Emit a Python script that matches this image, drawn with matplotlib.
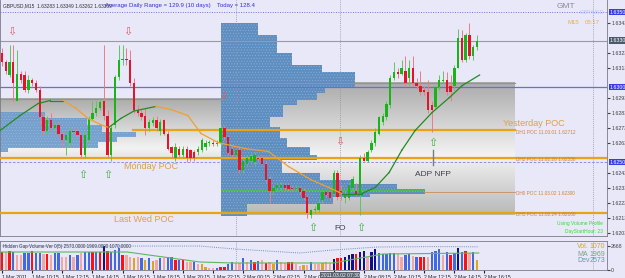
"""GBPUSD M15 chart with volume profile, POC levels and a volume sub-window."""

import matplotlib

matplotlib.use("Agg")
import matplotlib.pyplot as plt
import matplotlib.transforms as mtransforms
import numpy as np

plt.rcParams["font.family"] = ["Liberation Sans", "DejaVu Sans"]
plt.rcParams["hatch.linewidth"] = 0.35

BASE = 1.6200  # candle values below are pips above this price

opens = [123, 117, 108, 117, 91, 109, 108, 98, 105, 103,
         98, 80, 71, 78, 73, 75, 69, 65, 63, 71,
         71, 68, 55, 65, 79, 83, 86, 91, 81, 55,
         75, 107, 118, 119, 118, 103, 85, 83, 81, 73,
         76, 78, 71, 78, 69, 60, 53, 59, 55, 59,
         58, 57, 57, 58, 60, 63, 63, 62, 63, 73,
         67, 59, 55, 58, 45, 49, 51, 50, 53, 53,
         49, 39, 31, 33, 33, 35, 35, 33, 32, 33,
         31, 27, 15, 18, 18, 25, 30, 30, 29, 43,
         31, 26, 26, 33, 31, 28, 53, 51, 58, 63,
         69, 77, 80, 88, 106, 110, 109, 111, 106, 113,
         103, 101, 98, 97, 88, 87, 100, 104, 105, 101,
         101, 113, 133, 118, 135, 121, 127]
highs = [126, 118, 128, 128, 125, 111, 111, 108, 106, 105,
         101, 83, 81, 83, 77, 77, 71, 71, 73, 73,
         73, 69, 71, 81, 91, 91, 93, 128, 85, 75,
         108, 128, 128, 126, 125, 106, 88, 85, 86, 79,
         80, 81, 79, 79, 71, 61, 63, 61, 61, 61,
         59, 58, 61, 66, 65, 65, 65, 65, 75, 75,
         68, 61, 59, 61, 53, 55, 56, 57, 55, 54,
         51, 41, 35, 37, 37, 36, 36, 35, 35, 34,
         33, 28, 19, 21, 25, 31, 31, 31, 45, 45,
         35, 31, 36, 41, 36, 55, 56, 58, 65, 73,
         81, 83, 91, 108, 117, 113, 118, 121, 118, 121,
         106, 111, 101, 105, 91, 101, 108, 111, 110, 108,
         115, 139, 138, 136, 143, 128, 135]
lows = [114, 109, 107, 91, 91, 103, 97, 96, 101, 97,
        75, 68, 68, 71, 71, 67, 61, 55, 61, 69,
        67, 53, 53, 63, 78, 81, 85, 78, 53, 51,
        73, 105, 115, 115, 101, 83, 81, 78, 68, 71,
        74, 71, 68, 68, 58, 53, 51, 53, 53, 50,
        51, 51, 55, 57, 58, 61, 61, 61, 61, 65,
        55, 53, 53, 43, 43, 48, 50, 48, 50, 48,
        36, 23, 29, 31, 31, 31, 31, 31, 31, 29,
        25, 13, 13, 16, 17, 23, 27, 25, 28, 25,
        25, 23, 25, 31, 27, 15, 51, 50, 57, 61,
        68, 75, 78, 86, 105, 106, 108, 101, 101, 101,
        99, 95, 95, 83, 70, 86, 98, 103, 95, 91,
        98, 113, 117, 117, 119, 118, 125]
closes = [117, 111, 117, 103, 109, 105, 98, 105, 103, 98,
          80, 71, 78, 73, 75, 69, 65, 68, 71, 70,
          68, 55, 68, 79, 83, 86, 90, 81, 55, 73,
          107, 118, 119, 118, 103, 85, 83, 80, 73, 77,
          78, 73, 77, 69, 59, 56, 60, 55, 59, 53,
          53, 53, 59, 65, 63, 63, 62, 63, 73, 67,
          56, 55, 58, 45, 51, 53, 54, 55, 52, 49,
          38, 31, 33, 35, 35, 33, 32, 32, 33, 30,
          26, 16, 18, 19, 23, 30, 28, 26, 43, 27,
          29, 29, 35, 39, 28, 53, 51, 57, 63, 70,
          80, 81, 89, 106, 110, 109, 113, 103, 113, 103,
          101, 97, 97, 85, 85, 100, 105, 105, 97, 97,
          113, 133, 118, 135, 121, 127, 130.9]

volumes = [2035, 2035, 2109, 2035, 1665, 1665, 1850, 1850, 2109, 1850,
           1850, 1739, 1739, 1665, 1850, 1850, 1480, 1480, 1665, 1480,
           1665, 1850, 2035, 1961, 2035, 2035, 2035, 2701, 2109, 2035,
           2220, 2405, 1665, 1665, 1480, 1295, 1480, 1295, 1110, 1295,
           999, 1110, 1295, 1295, 1480, 1480, 1110, 1110, 1110, 925,
           851, 925, 629, 629, 370, 259, 185, 185, 370, 370,
           629, 925, 740, 740, 1295, 851, 1110, 925, 999, 1110,
           740, 925, 629, 1110, 851, 740, 851, 925, 629, 481,
           555, 555, 925, 629, 629, 814, 851, 814, 1221, 1295,
           1369, 1480, 1665, 1739, 1739, 1961, 2109, 1480, 1961, 2294,
           1850, 1739, 1739, 1850, 1850, 1739, 1480, 1665, 1739, 1591,
           1480, 1480, 1480, 1480, 2035, 2109, 2331, 1665, 2035, 1665,
           1850, 2405, 2035, 2109, 1850, 2035, 1070]
vol_kind = ("rsrbssbbrb" "bsrsbbssbs" "bsbbrbrnrb" "bbrssgsbgb" "gsbsbbrbrs"
            "sbsggssbrr" "bbssbsbrbs" "rsgbssrrss" "gsbssgssnr" "rnnnrnnsnn"
            "bbbbbssbbs" "brrsbbbsbr" "bnbrsbg")

# moving average (bar index, pips)
ma_bar = [-0.5, 4.8, 9.6, 12.8, 16.3, 19.5, 22.9, 26.1, 28.3, 31.5, 35.0,
          40.8, 44.8, 49.3, 52.8, 57.3, 64.3, 70.7, 76.0, 82.1, 86.7, 90.1,
          95.5, 99.0, 102.7, 106.1, 109.6, 114.1, 118.7, 122.1, 126.7]
ma_val = [71, 81, 89, 91, 91, 86, 79, 75, 73, 79, 84,
          87, 85, 81, 69, 63, 59, 57, 47, 38, 33, 29,
          29, 33, 43, 58, 71, 83, 93, 101, 108]

volma_bar = [-0.5, 33.2, 52.5, 61.3, 87.8, 101.0, 126.5]
volma_val = [1998, 1998, 888, 777, 777, 1776, 1887]
dev_bar = [-0.5, 31.3, 52.5, 61.8, 79.0, 87.8, 99.5, 114.3, 126.5]
dev_val = [2660, 2660, 2660, 2330, 1890, 2220, 2550, 2600, 2573]

# volume profiles: level edges in pips, length in bars
vp_edges = [142.7, 134.7, 122.7, 118, 114.7, 110, 99.3, 96, 91.3, 88, 80, 73.3,
            66, 60, 54.7, 51.3, 42.7, 38, 35.3, 32, 28.7, 26.7, 22, 14]
vp_len = [9.8, 14.9, 18.8, 18.8, 26.8, 35.5, 27.6, 25.5, 20.2, 16.4, 13, 15.6,
          17.5, 23.6, 25.5, 16.2, 26.3, 35, 46.7, 54.1, 39.5, 29.7, 6.9]
vp_start = 58.1
left_vp_edges = [83.3, 79.3, 74.7, 70.0, 66.7, 63.3, 59.3, 56.7]
left_vp_len = [12, 23, 27, 36, 31, 26, 2]

poc_names = ["DH1", "DH2", "DH0", "DH5"]
poc_dates = ["11.03.01", "11.02.28", "11.03.02", "11.02.24"]
poc_prices = [1.62712, 1.62530, 1.62300, 1.62160]
poc_from = [34.7, -0.6, 112.0, -0.6]
poc_to = [136.1, 161.0, 136.1, 161.0]

down_bar = [2.7, 33.4, 58.9, 89.7]
down_val = [136.7, 136.7, 93.3, 63.3]
up_bar = [21.5, 28.1, 82.5, 95.2, 114.3]
up_val = [41.3, 41.3, 6.0, 6.0, 62.7]

time_ticks = list(range(0, 129, 8))
time_labels = ["1 Mar 2011", "1 Mar 10:15", "1 Mar 12:15", "1 Mar 14:15",
               "1 Mar 16:15", "1 Mar 18:15", "1 Mar 20:15", "1 Mar 22:15",
               "2 Mar 00:15", "2 Mar 02:15", "2 Mar 04:15", "",
               "2 Mar 08:15", "2 Mar 10:15", "2 Mar 12:15", "2 Mar 14:15",
               "2 Mar 16:15"]
price_ticks = [1.6353 - 0.001 * k for k in range(16)]
marked_prices = [1.6350, 1.63309, 1.6300, 1.6250]


def p(v):
    return BASE + np.asarray(v, dtype=float) / 10000.0


W, H = 625, 278
BG = "#E8E8F8"
GREEN, RED = "#19B419", "#E5142B"
ORANGE = "#E8A317"

fig = plt.figure(figsize=(W / 100, H / 100), dpi=100, facecolor=BG)
ax = fig.add_axes([0, 1 - 236 / H, 607 / W, 236 / H], facecolor=BG)
axv = fig.add_axes([0, 1 - 270 / H, 607 / W, 29 / H], facecolor=BG)
XL = (-0.53, 160.5)


def grad_box(x0, x1, top, bottom, t0):
    t = np.linspace(0, 1, 200)
    g = 0.95 - 0.28 * np.abs(t - t0) / max(t0, 1 - t0)
    ax.imshow(g[:, None], cmap="gray", vmin=0, vmax=1, origin="upper",
              extent=[x0, x1, p(bottom), p(top)], aspect="auto", zorder=0.5,
              interpolation="bilinear")
    ax.plot([x0, x1], [p(top)] * 2, color="#9090A8", lw=0.8, zorder=2)


grad_box(-0.53, 59.0, 92.0, 53.3, 0.85)
grad_box(59.0, 136.1, 102.7, 14.7, 0.55)

# volume profiles
e = np.array(vp_edges)
ax.barh(p((e[:-1] + e[1:]) / 2), vp_len, height=(e[:-1] - e[1:]) / 10000,
        left=vp_start, color="#5E8EC0", edgecolor="#8FB2DA", hatch="......",
        lw=0, zorder=1)
e = np.array(left_vp_edges)
ax.barh(p((e[:-1] + e[1:]) / 2), left_vp_len, height=(e[:-1] - e[1:]) / 10000,
        left=XL[0], color="#6B9BCB", edgecolor="#9CBDE2", hatch="......",
        alpha=0.9, lw=0, zorder=1)
ax.plot([vp_start, 112.0], [p(31.3)] * 2, color="#50C050", lw=0.6, zorder=2)

# reference lines
ax.axhline(marked_prices[0], color="#7070E0", ls=(0, (1, 1.5)), lw=0.7, zorder=2)
ax.axhline(p(closes[-1]), color="#9A9AA0", lw=0.8, zorder=2)
ax.axhline(marked_prices[2], color="#6B6BE0", lw=0.9, zorder=2)
ax.axhline(marked_prices[3], color="#8080D8", ls=(0, (3, 2)), lw=0.6, zorder=2)
for a in (ax, axv):
    for xv in (62.1, 89.7, 156.8):
        a.axvline(xv, color="#9090A0", ls=(0, (1, 1.5)), lw=0.6, zorder=2)

# POC lines
for name, date, price, x0, x1 in zip(poc_names, poc_dates, poc_prices, poc_from, poc_to):
    if name == "DH0":
        ax.plot([x0, x1], [price, price], color="#C89060", lw=0.6, zorder=3)
    else:
        ax.plot([x0, x1], [price, price], color=ORANGE, lw=1.6, zorder=3)
    ax.text(136.4, price - 0.00013, f"{name} POC {date} {price:.5f}",
            fontsize=3.4, color="#D08040", va="center", ha="left", zorder=6)

ax.text(32.4, p(46.7), "Monday POC", fontsize=6.5, color="#E0A040", va="center")
ax.text(29.7, p(12.0), "Last Wed POC", fontsize=6.5, color="#E0A040", va="center")
ax.text(132.9, p(76.0), "Yesterday POC", fontsize=6.5, color="#E0A040", va="center")

# candles
x = np.arange(len(closes))
o, h, l, c = (np.array(v, dtype=float) for v in (opens, highs, lows, closes))
up = c >= o
ax.vlines(x, p(l), p(h), colors=np.where(up, "#5CC85C", "#EE7A88"), lw=0.7, zorder=4)
ax.bar(x, np.maximum(np.abs(c - o), 0.6) / 10000, bottom=p(np.minimum(o, c)),
       width=0.62, color=np.where(up, GREEN, RED), lw=0, zorder=5)

# moving average, green while rising, orange while falling
for k in range(len(ma_bar) - 1):
    col = "#228B22" if ma_val[k + 1] >= ma_val[k] else "#F0A030"
    ax.plot(ma_bar[k:k + 2], p(ma_val[k:k + 2]), color=col, lw=0.9, zorder=6)

# signal arrows
for b, v in zip(down_bar, down_val):
    ax.text(b, p(v), "\u21e9", color="#E06060", fontsize=8, ha="center",
            va="center", family="DejaVu Sans", zorder=7)
for b, v in zip(up_bar, up_val):
    ax.text(b, p(v), "\u21e7", color="#40B040", fontsize=8, ha="center",
            va="center", family="DejaVu Sans", zorder=7)
ax.plot([114.3, 114.3], [p(58), p(48)], color="#708080", lw=1.0, zorder=6)
ax.text(114.3, p(42), "ADP NFP", fontsize=6, color="#404050", ha="center", va="center")
ax.text(89.7, p(6), "FO", fontsize=6, color="#404050", ha="center", va="center")
ax.text(159.4, p(8.7), "Using Volume Profile", fontsize=3.5, color="#33DD33", ha="right", va="center")
ax.text(159.4, p(4.0), "DayStartHour: 23", fontsize=3.5, color="#33DD33", ha="right", va="center")

ax.set_xlim(*XL)
ax.set_ylim(p(0.67), p(158))
ax.set_xticks([])
ax.yaxis.tick_right()
# plain ticks that would sit under a highlighted price are left out
shown = [t for t in price_ticks if min(abs(t - m) for m in marked_prices) > 0.00035]
ax.set_yticks(shown)
ax.set_yticklabels([f"{t:.5f}" for t in shown])
ax.tick_params(axis="y", labelsize=3.8, length=2, pad=1, colors="#404040")
for s in ax.spines.values():
    s.set_color("#7A7A8A")
    s.set_linewidth(0.6)
ax.spines["top"].set_visible(False)

# highlighted price labels on the right scale
tr = mtransforms.blended_transform_factory(ax.transAxes, ax.transData)
for price, fc in zip(marked_prices, ["#3A3AE8", "#4A5A6A", "#3A3AE8", "#3A3AE8"]):
    ax.text(1.004, price, f"{price:.5f}", transform=tr, fontsize=3.8, color="white",
            va="center", ha="left", zorder=8, clip_on=False,
            bbox=dict(boxstyle="square,pad=0.15", fc=fc, ec="none"))

# volume sub-window
cmap = {"r": "#FF1010", "s": "#F2A8A0", "b": "#4169E1", "g": "#DAA520", "n": "#10108A"}
axv.bar(np.arange(len(volumes)), volumes, width=0.62,
        color=[cmap[k] for k in vol_kind], lw=0, zorder=3)
axv.plot(volma_bar, volma_val, color="#5DB85D", lw=0.8, zorder=4)
axv.plot(dev_bar, dev_val, color="#6A8FC0", lw=0.7, ls=(0, (1, 1.2)), zorder=4)
axv.set_xlim(*XL)
axv.set_ylim(0, 3220)
axv.yaxis.tick_right()
axv.set_yticks([0, 2668])
axv.set_yticklabels(["0", "2668"])
axv.tick_params(axis="y", labelsize=3.8, length=2, pad=1, colors="#404040")
axv.set_xticks(time_ticks)
axv.set_xticklabels(time_labels, ha="left")
axv.tick_params(axis="x", labelsize=3.6, length=2, pad=1.5, colors="#202020")
for s in axv.spines.values():
    s.set_color("#7A7A8A")
    s.set_linewidth(0.6)
trv = mtransforms.blended_transform_factory(axv.transData, axv.transAxes)
axv.text(89.7, -0.2, "2011.03.02 07:30", transform=trv, fontsize=3.6, color="white",
         ha="center", va="center", clip_on=False, zorder=8,
         bbox=dict(boxstyle="square,pad=0.2", fc="#5A6470", ec="none"))
axv.text(0.005, 0.8, "Hidden Gap Volume Ver 0(5) 2573.0000 1969.0000 1070.0000",
         transform=axv.transAxes, fontsize=3.3, color="#303040", va="center")


def ftext(px, py, s, **kw):
    fig.text(px / W, 1 - py / H, s, va="center", **kw)


ftext(3, 6, "GBPUSD,M15  1.63283 1.63349 1.63262 1.63309", fontsize=3.5, color="#303030")
ftext(105, 6, "Average Daily Range = 129.9 (10 days)    Today = 128.4", fontsize=4.3, color="#3030DD")
ftext(557, 7, "GMT", fontsize=6, color="#8A8A9A")
ftext(580, 12, "GBP/USD", fontsize=4, color="#B8C8F0")
ftext(567, 22, "M15", fontsize=4.3, color="#E8B040")
ftext(585, 22, "05:17", fontsize=4.3, color="#E8B040")
ftext(577, 246, "Vol.", fontsize=5, color="#DAA520")
ftext(605, 246, "1070", fontsize=5, color="#DAA520", ha="right")
ftext(577, 254, "MA", fontsize=5, color="#7F9F7F")
ftext(605, 254, "1969", fontsize=5, color="#7F9F7F", ha="right")
ftext(577, 261, "Dev", fontsize=5, color="#4F9FAF")
ftext(605, 261, "2573", fontsize=5, color="#4F9FAF", ha="right")

fig.savefig("out.png", dpi=100, facecolor=BG)
